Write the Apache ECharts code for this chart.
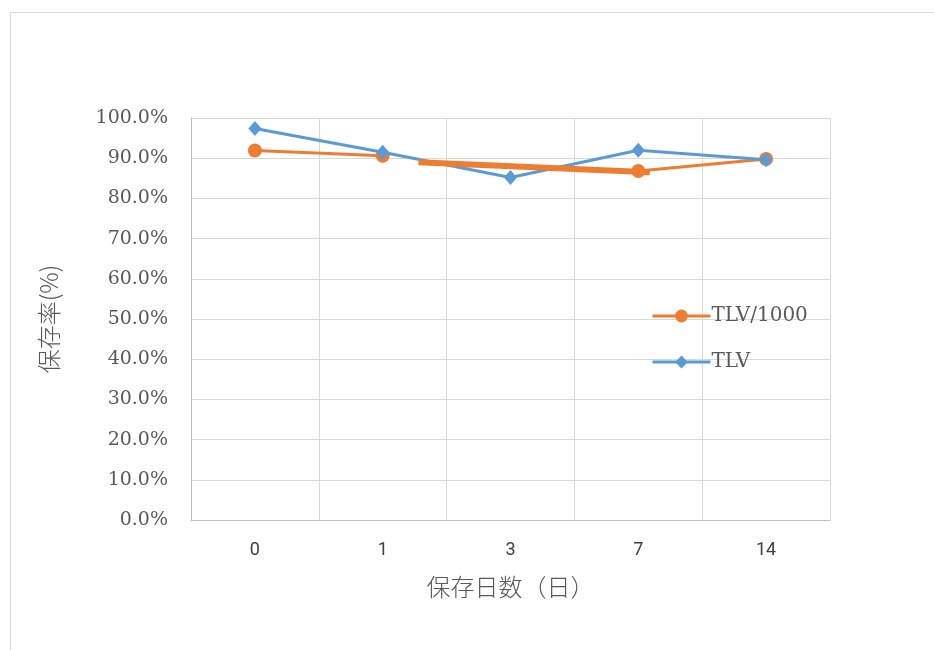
<!DOCTYPE html>
<html>
<head>
<meta charset="utf-8">
<script src="https://cdn.jsdelivr.net/npm/echarts@6/dist/echarts.min.js"></script>
<style>
  html, body { margin: 0; padding: 0; background: #ffffff; }
  #chart { width: 934px; height: 650px; }
</style>
</head>
<body>
<div id="chart"></div>
<script>
// Storage days (categories) and retention rate (%) per sample
const days = ['0', '1', '3', '7', '14'];
const tlv1000 = [91.9, 90.6, null, 86.8, 89.8];
const tlv = [97.4, 91.5, 85.2, 92.0, 89.6];
// Hand-drawn connector across the missing day-3 point: [category position, %]
const tlv1000Bridge = [[1.28, 89.0], [3.09, 86.5]];
const yTicks = { min: 0, max: 100, step: 10 };

const serif = '"DejaVu Serif", serif';
const cjk = '"Noto Sans CJK JP", sans-serif';
const orange = '#ed7d31';
const blue = '#5b9bd5';

const chart = echarts.init(document.getElementById('chart'));
chart.setOption({
  animation: false,
  backgroundColor: '#ffffff',
  graphic: [{
    type: 'rect',
    shape: { x: 10.5, y: 12.5, width: 940, height: 660 },
    style: { fill: 'none', stroke: '#d9d9d9', lineWidth: 1 },
    silent: true
  }],
  grid: { left: 191, right: 104, top: 118, bottom: 130 },
  legend: {
    orient: 'vertical',
    left: 646,
    top: 301,
    itemGap: 26,
    itemWidth: 58,
    itemHeight: 16,
    data: [
      { name: 'TLV/1000', lineStyle: { width: 3 } },
      { name: 'TLV', lineStyle: { width: 3 } }
    ],
    textStyle: { fontFamily: serif, fontSize: 20, color: '#595959', padding: [0, 0, 0, -4] }
  },
  xAxis: [{
    type: 'category',
    data: days,
    boundaryGap: true,
    name: '保存日数（日）',
    nameLocation: 'middle',
    nameGap: 55,
    nameTextStyle: { fontFamily: cjk, fontSize: 24, fontWeight: 300, color: '#595959' },
    axisLine: { lineStyle: { color: '#bfbfbf', width: 1 } },
    axisTick: { show: false },
    axisLabel: { fontFamily: 'Roboto, sans-serif', fontSize: 18, color: '#404040', margin: 21 },
    splitLine: { show: true, lineStyle: { color: '#d9d9d9', width: 1 } }
  }, {
    type: 'value',
    min: -0.5,
    max: 4.5,
    show: false
  }],
  yAxis: {
    type: 'value',
    min: yTicks.min,
    max: yTicks.max,
    interval: yTicks.step,
    name: '保存率(%)',
    nameLocation: 'middle',
    nameRotate: 90,
    nameGap: 130,
    nameTextStyle: { fontFamily: cjk, fontSize: 24, fontWeight: 300, color: '#595959' },
    axisLine: { show: true, onZero: false, lineStyle: { color: '#bfbfbf', width: 1 } },
    axisTick: { show: false },
    axisLabel: {
      fontFamily: serif, fontSize: 19, color: '#595959', margin: 23,
      formatter: v => v.toFixed(1) + '%'
    },
    splitLine: { lineStyle: { color: '#d9d9d9', width: 1 } }
  },
  series: [{
    name: 'TLV/1000',
    type: 'line',
    data: tlv1000,
    connectNulls: false,
    symbol: 'circle',
    symbolSize: 14,
    itemStyle: { color: orange },
    lineStyle: { color: orange, width: 3 },
    z: 2
  }, {
    name: 'TLV',
    type: 'line',
    data: tlv,
    symbol: 'diamond',
    symbolSize: [13, 15],
    itemStyle: { color: blue },
    lineStyle: { color: blue, width: 3 },
    z: 3
  }, {
    name: 'bridge',
    type: 'line',
    xAxisIndex: 1,
    data: tlv1000Bridge,
    symbol: 'none',
    lineStyle: { color: orange, width: 6, cap: 'butt' },
    z: 4
  }]
});
</script>
</body>
</html>
